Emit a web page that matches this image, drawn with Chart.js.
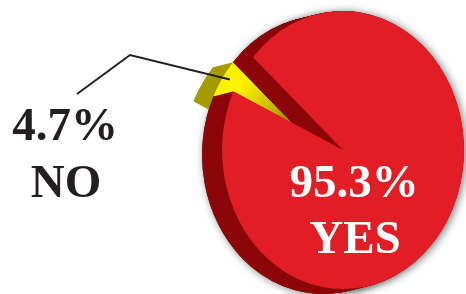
<!DOCTYPE html>
<html>
<head>
<meta charset="UTF-8">
<title>Yes / No</title>
<script src="https://cdn.jsdelivr.net/npm/chart.js@4/dist/chart.umd.min.js"></script>
<style>
  html, body { margin: 0; padding: 0; background: #fff; }
  #wrap { width: 466px; height: 294px; }
</style>
</head>
<body>
<div id="wrap"><canvas id="pie" width="466" height="294"></canvas></div>
<script>
// data
var answers = ['NO', 'YES'];
var shares = [4.7, 95.3];
var shareLabels = ['4.7%', '95.3%'];

var faceColors = ['#fff000', '#e31d25'];
var sideColors = ['#a69b00', '#8c070a'];

// squash the round pie into the upright ellipse of the picture
var squash = 0.87;
var depthX = -20, depthY = 5;

function ellipse(ctx, cx, cy) {
  ctx.translate(cx, cy);
  ctx.scale(squash, 1);
  ctx.translate(-cx, -cy);
}

function slicePath(ctx, arc) {
  var p = arc.getProps(['x', 'y', 'startAngle', 'endAngle', 'outerRadius']);
  ctx.beginPath();
  ctx.moveTo(p.x, p.y);
  ctx.arc(p.x, p.y, p.outerRadius, p.startAngle, p.endAngle);
  ctx.closePath();
}

// fill one slice pushed back by t depths
function fillAt(ctx, arc, t, style, cx, cy) {
  ctx.save();
  ctx.translate(depthX * t, depthY * t);
  ellipse(ctx, cx, cy);
  slicePath(ctx, arc);
  ctx.fillStyle = typeof style === 'function' ? style(ctx, arc) : style;
  ctx.fill();
  ctx.restore();
}

function yellowFace(ctx, arc) {
  var g = ctx.createRadialGradient(arc.x, arc.y, 0, arc.x, arc.y, arc.outerRadius);
  g.addColorStop(0.35, '#9a8f00');
  g.addColorStop(0.7, '#e6d800');
  g.addColorStop(0.85, '#fff200');
  g.addColorStop(1, '#fff000');
  return g;
}

var depthPlugin = {
  id: 'depth',
  beforeDatasetsDraw: function(chart) {
    var ctx = chart.ctx;
    var arcs = chart.getDatasetMeta(0).data;
    var no = arcs[0], yes = arcs[1];
    var cx = yes.x, cy = yes.y;
    var steps = 40, k;

    // soft shadow round the front face
    ctx.save();
    ctx.shadowColor = 'rgba(0,0,0,0.55)';
    ctx.shadowBlur = 8;
    ctx.shadowOffsetX = 2;
    ctx.shadowOffsetY = 1;
    fillAt(ctx, yes, 0, sideColors[1], cx, cy);
    fillAt(ctx, yes, 1, sideColors[1], cx, cy);
    ctx.restore();

    // the NO slice sits one depth further back
    for (k = steps; k >= 0; k--) fillAt(ctx, no, 1 + k / steps, sideColors[0], cx, cy);
    fillAt(ctx, no, 1, yellowFace, cx, cy);

    // side of the YES slice, its cut wall covers part of the NO face
    for (k = steps; k >= 1; k--) fillAt(ctx, yes, k / steps, sideColors[1], cx, cy);

    // front faces are drawn by Chart.js inside this squashed frame
    ctx.save();
    ellipse(ctx, cx, cy);
  },
  afterDatasetsDraw: function(chart) {
    chart.ctx.restore();
  },
  afterDraw: function(chart) {
    var ctx = chart.ctx;
    var no = chart.getDatasetMeta(0).data[0];
    var mid = (no.startAngle + no.endAngle) / 2 + 0.03;
    var r = no.outerRadius - 8;
    var ex = no.x + depthX + Math.cos(mid) * r * squash;
    var ey = no.y + depthY + Math.sin(mid) * r;

    ctx.save();
    ctx.strokeStyle = '#231f20';
    ctx.lineWidth = 2;
    ctx.beginPath();
    ctx.moveTo(77, 94);
    ctx.lineTo(130, 55);
    ctx.lineTo(ex, ey);
    ctx.stroke();

    ctx.textAlign = 'center';
    ctx.textBaseline = 'alphabetic';
    ctx.font = 'bold 47px "Liberation Serif", "Times New Roman", serif';
    ctx.fillStyle = '#231f20';
    ctx.fillText(shareLabels[0], 65, 140);
    ctx.fillText(answers[0], 66, 197);

    ctx.fillStyle = '#ffffff';
    ctx.fillText(shareLabels[1], 354, 197);
    ctx.fillText(answers[1], 355, 253);
    ctx.restore();
  }
};

new Chart(document.getElementById('pie'), {
  type: 'pie',
  data: {
    labels: answers,
    datasets: [{
      data: shares,
      // the NO face is painted by the depth plugin, pushed back
      backgroundColor: ['rgba(0,0,0,0)', faceColors[1]],
      borderWidth: 0,
      clip: false
    }]
  },
  options: {
    responsive: false,
    animation: false,
    rotation: -65,
    radius: 139,
    layout: { padding: { left: 220, top: 6, right: 0, bottom: 0 } },
    plugins: {
      legend: { display: false },
      tooltip: { enabled: false }
    }
  },
  plugins: [depthPlugin]
});
</script>
</body>
</html>
